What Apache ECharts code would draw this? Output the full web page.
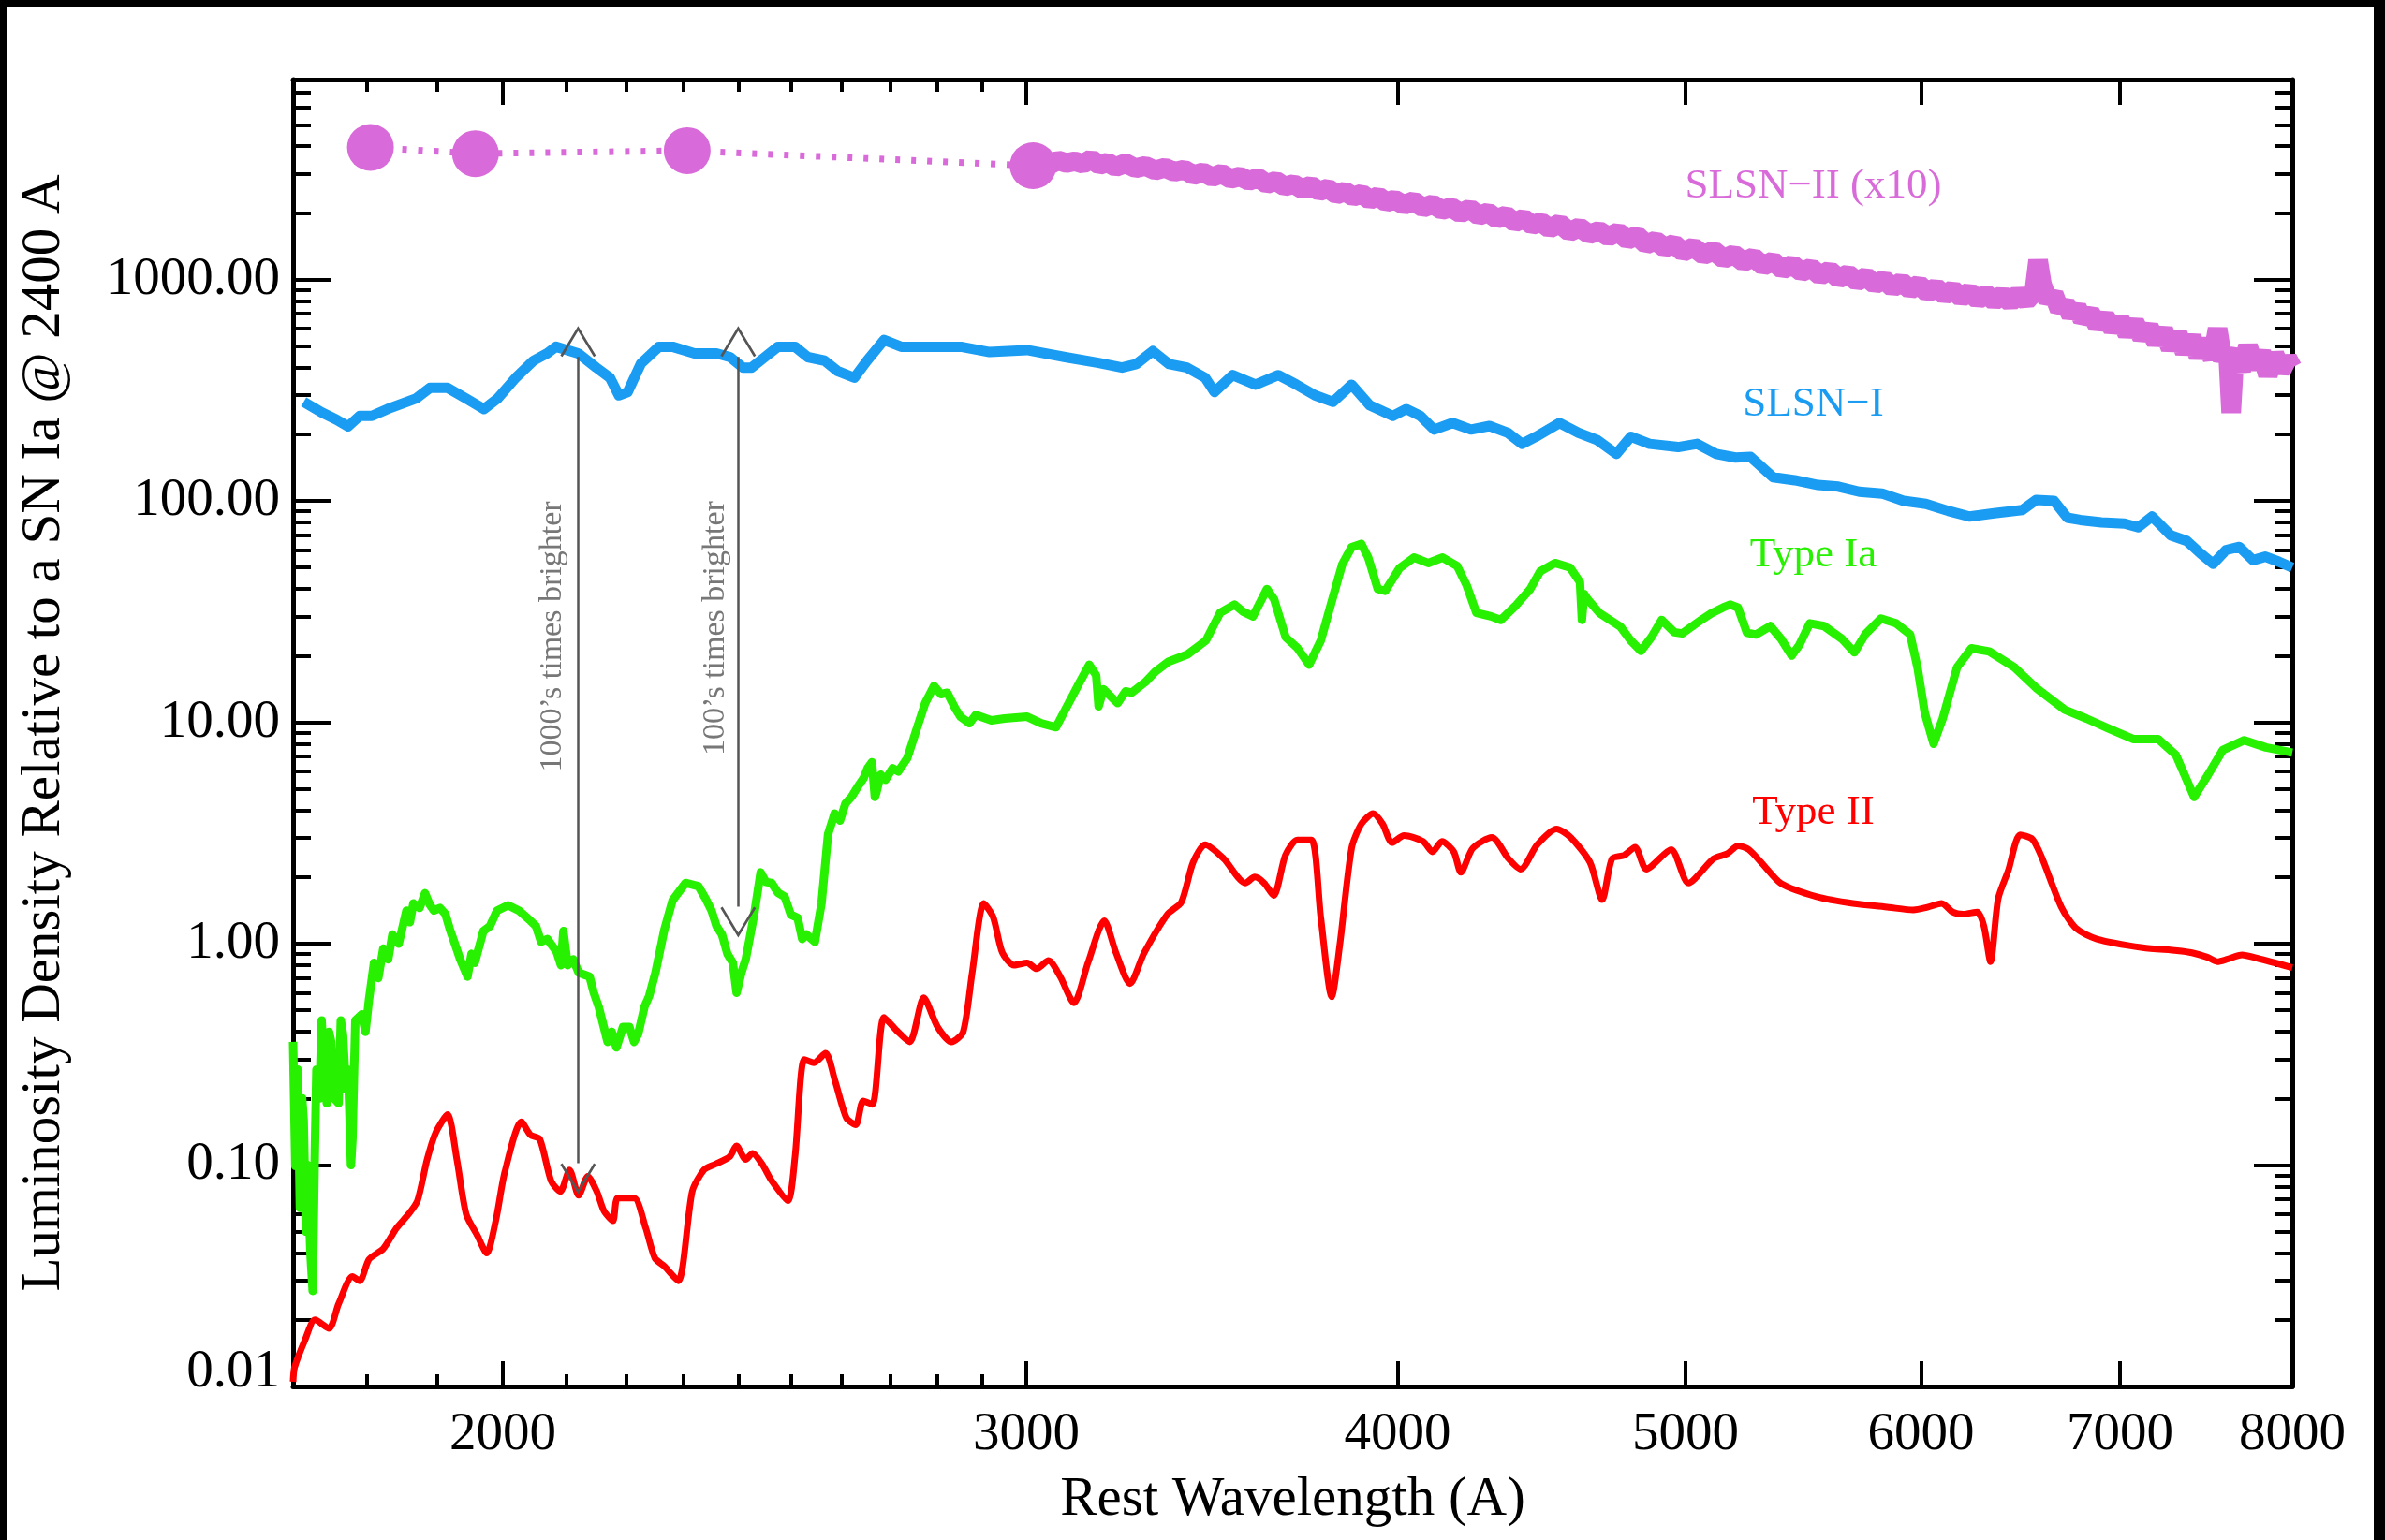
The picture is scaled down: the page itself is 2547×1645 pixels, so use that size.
<!DOCTYPE html>
<html lang="en">
  <head>
    <meta charset="UTF-8" />
    <title>SLSN vs SN spectra</title>
    <style>
      html,
      body {
        margin: 0;
        padding: 0;
        background: #000;
      }
      #main {
        position: absolute;
        left: 8px;
        top: 8px;
        width: 2527px;
        height: 1637px;
        background: #fff;
      }
    </style>
  </head>
  <body>
    <div id="main"></div>
    <script src="https://cdn.jsdelivr.net/npm/echarts@6/dist/echarts.min.js"></script>
    <script>
      // tick positions (wavelength in A, luminosity relative to SN Ia)
      const xMajorTicks = [2000, 3000, 4000, 5000, 6000, 7000, 8000];
      const xMinorTicks = [1800, 1900, 2100, 2200, 2300, 2400, 2500, 2600, 2700, 2800, 2900];
      const yMajorTicks = [0.01, 0.1, 1, 10, 100, 1000];
      const yMinorTicks = [
        0.02, 0.03, 0.04, 0.05, 0.06, 0.07, 0.08, 0.09,
        0.2, 0.3, 0.4, 0.5, 0.6, 0.7, 0.8, 0.9,
        2, 3, 4, 5, 6, 7, 8, 9,
        20, 30, 40, 50, 60, 70, 80, 90,
        200, 300, 400, 500, 600, 700, 800, 900,
        2000, 3000, 4000, 5000, 6000, 7000
      ];

      // SLSN-II (x10): UV photometry points, then the (noisy) optical spectrum
      const slsn2Phot = [[1805, 3950], [1958, 3700], [2307, 3820], [3016, 3266]];
      const slsn2Spec = [
        [3016, 3266], [3035, 3390], [3055, 3300], [3075, 3450], [3095, 3360], [3115, 3420],
        [3135, 3330], [3155, 3500], [3175, 3290], [3195, 3380], [3215, 3220], [3240, 3350],
        [3265, 3180], [3290, 3260], [3315, 3110], [3340, 3200], [3365, 3060], [3390, 3140],
        [3415, 2960], [3440, 3050], [3465, 2900], [3490, 3010], [3515, 2850], [3540, 2920],
        [3565, 2790], [3590, 2880], [3615, 2700], [3640, 2790], [3665, 2630], [3690, 2700],
        [3715, 2560], [3740, 2660], [3765, 2500], [3790, 2580], [3815, 2420], [3840, 2500],
        [3865, 2370], [3890, 2440], [3915, 2290], [3940, 2380], [3965, 2230], [3990, 2300],
        [4020, 2170], [4050, 2260], [4080, 2110], [4110, 2190], [4140, 2060], [4170, 2120],
        [4200, 1990], [4230, 2090], [4260, 1940], [4290, 2010], [4320, 1880], [4350, 1950],
        [4380, 1810], [4410, 1890], [4440, 1760], [4470, 1820], [4500, 1700], [4535, 1790],
        [4570, 1640], [4605, 1720], [4640, 1600], [4675, 1660], [4710, 1560], [4745, 1640],
        [4780, 1510], [4815, 1580], [4850, 1440], [4885, 1500], [4920, 1390], [4955, 1450],
        [4990, 1330], [5030, 1400], [5070, 1290], [5110, 1350], [5150, 1240], [5190, 1300],
        [5230, 1200], [5270, 1260], [5310, 1150], [5350, 1210], [5390, 1110], [5430, 1170],
        [5470, 1080], [5510, 1130], [5550, 1040], [5590, 1100], [5630, 1010], [5670, 1060],
        [5710, 980], [5750, 1030], [5790, 950], [5830, 1000], [5870, 920], [5910, 975],
        [5950, 900], [5990, 950], [6030, 870], [6070, 920], [6110, 850], [6150, 900],
        [6190, 830], [6230, 880], [6270, 810], [6310, 860], [6350, 800], [6390, 850],
        [6430, 790], [6470, 860], [6510, 800], [6550, 880], [6570, 1220], [6590, 950],
        [6620, 800], [6650, 860], [6680, 730], [6710, 780], [6740, 690], [6770, 750],
        [6800, 660], [6840, 710], [6880, 620], [6920, 680], [6960, 600], [7000, 660],
        [7040, 570], [7080, 640], [7120, 550], [7160, 610], [7200, 520], [7240, 590],
        [7280, 490], [7320, 570], [7360, 470], [7400, 550], [7440, 450], [7480, 530],
        [7520, 440], [7550, 600], [7580, 430], [7610, 490], [7630, 250], [7650, 460],
        [7690, 390], [7730, 500], [7770, 400], [7810, 470], [7850, 370], [7890, 460],
        [7930, 385], [7970, 440], [8000, 400]
      ];

      const slsn1 = [
        [1714, 280], [1738, 251], [1758, 233], [1774, 217], [1790, 242], [1807, 242],
        [1829, 260], [1870, 290], [1890, 324], [1916, 324], [1944, 290], [1971, 260],
        [1992, 290], [2020, 360], [2048, 430], [2070, 464], [2084, 497], [2120, 464],
        [2150, 400], [2173, 360], [2188, 300], [2203, 310], [2226, 418], [2257, 497],
        [2281, 497], [2320, 464], [2360, 464], [2385, 446], [2409, 400], [2425, 400],
        [2450, 446], [2475, 497], [2508, 497], [2533, 446], [2566, 430], [2592, 386],
        [2626, 360], [2652, 430], [2687, 533], [2723, 497], [2759, 497], [2805, 497],
        [2852, 497], [2916, 470], [3002, 480], [3092, 446], [3173, 420], [3231, 400],
        [3267, 415], [3309, 475], [3351, 415], [3398, 400], [3446, 360], [3471, 310],
        [3520, 370], [3583, 335], [3647, 370], [3699, 335], [3752, 300], [3805, 280],
        [3860, 335], [3915, 270], [3985, 242], [4027, 260], [4071, 242], [4115, 210],
        [4174, 225], [4234, 210], [4295, 218], [4357, 203], [4405, 181], [4453, 195],
        [4535, 225], [4602, 203], [4670, 188], [4739, 163], [4792, 195], [4862, 181],
        [4971, 175], [5045, 181], [5120, 163], [5197, 157], [5258, 158], [5350, 128],
        [5441, 124], [5540, 118], [5628, 116], [5720, 110], [5822, 108], [5920, 100],
        [6023, 97], [6130, 90], [6230, 85], [6350, 88], [6490, 91], [6560, 101],
        [6652, 100], [6720, 84], [6788, 82], [6900, 80], [7025, 79], [7100, 76],
        [7176, 85], [7280, 70], [7372, 66], [7450, 58], [7524, 52], [7600, 60],
        [7678, 62], [7760, 54], [7835, 56], [7920, 53], [8000, 50]
      ];

      const typeIa = [
        [1700, 0.36], [1703, 0.099], [1706, 0.27], [1709, 0.064], [1712, 0.2], [1714, 0.16],
        [1717, 0.05], [1719, 0.1], [1723, 0.04], [1726, 0.027], [1729, 0.12], [1731, 0.27],
        [1735, 0.2], [1738, 0.45], [1742, 0.25], [1745, 0.19], [1748, 0.4], [1751, 0.36],
        [1755, 0.2], [1761, 0.19], [1764, 0.45], [1767, 0.39], [1771, 0.22], [1774, 0.27],
        [1778, 0.1], [1780, 0.13], [1784, 0.45], [1793, 0.48], [1798, 0.4], [1803, 0.56],
        [1810, 0.82], [1816, 0.7], [1823, 0.95], [1830, 0.85], [1836, 1.1], [1845, 1.0],
        [1856, 1.41], [1861, 1.25], [1866, 1.52], [1875, 1.45], [1883, 1.69], [1890, 1.5],
        [1896, 1.41], [1905, 1.45], [1913, 1.36], [1920, 1.15], [1926, 1.02], [1935, 0.85],
        [1946, 0.71], [1952, 0.9], [1957, 0.82], [1970, 1.14], [1980, 1.2], [1991, 1.41],
        [2008, 1.49], [2025, 1.41], [2043, 1.27], [2052, 1.2], [2060, 1.02], [2070, 1.05],
        [2085, 0.92], [2092, 0.8], [2096, 1.14], [2103, 0.8], [2112, 0.85], [2121, 0.74],
        [2139, 0.71], [2146, 0.6], [2154, 0.52], [2169, 0.36], [2176, 0.4], [2184, 0.34],
        [2195, 0.42], [2206, 0.42], [2214, 0.36], [2221, 0.39], [2232, 0.52], [2240, 0.58],
        [2251, 0.74], [2266, 1.14], [2281, 1.57], [2304, 1.88], [2327, 1.82], [2340, 1.6],
        [2351, 1.41], [2360, 1.2], [2370, 1.1], [2380, 0.9], [2390, 0.82], [2397, 0.6],
        [2406, 0.74], [2414, 0.85], [2430, 1.36], [2442, 2.1], [2452, 1.9], [2463, 1.88],
        [2475, 1.7], [2488, 1.63], [2500, 1.35], [2513, 1.31], [2522, 1.05], [2530, 1.1],
        [2547, 1.02], [2560, 1.52], [2573, 3.12], [2586, 3.87], [2597, 3.6], [2608, 4.3],
        [2620, 4.6], [2635, 5.2], [2645, 5.6], [2653, 6.2], [2662, 6.6], [2668, 4.6],
        [2671, 4.8], [2680, 5.8], [2690, 5.5], [2705, 6.2], [2717, 6.0], [2736, 6.9],
        [2755, 9.2], [2774, 12.2], [2793, 14.6], [2808, 13.4], [2822, 13.6], [2840, 11.5],
        [2851, 10.6], [2871, 9.9], [2885, 10.8], [2896, 10.6], [2920, 10.2], [2950, 10.4],
        [3002, 10.6], [3035, 9.9], [3070, 9.5], [3092, 11.4], [3127, 15.2], [3150, 18.2],
        [3167, 16.3], [3173, 11.8], [3185, 14.1], [3220, 12.2], [3240, 13.8], [3255, 13.6],
        [3290, 15.2], [3315, 16.9], [3350, 18.8], [3398, 20.2], [3448, 23.4], [3486, 31.2],
        [3525, 34.0], [3550, 31.5], [3576, 30.1], [3615, 40.0], [3635, 36.0], [3668, 24.2],
        [3701, 21.7], [3735, 18.2], [3769, 23.4], [3803, 36.0], [3832, 51.6], [3860, 61.8],
        [3889, 64], [3910, 55.5], [3939, 40], [3962, 39.2], [4006, 49.7], [4051, 55.5],
        [4096, 52.4], [4142, 55.5], [4189, 50.8], [4220, 41.5], [4252, 31.2], [4300, 30.1],
        [4333, 29], [4382, 33.5], [4433, 40], [4467, 48], [4519, 52.4], [4572, 50],
        [4607, 43], [4614, 29], [4622, 38], [4634, 36], [4679, 31], [4754, 27],
        [4792, 23.4], [4830, 21], [4869, 24.2], [4908, 29], [4957, 25.5], [4987, 25.2],
        [5061, 29], [5100, 31], [5147, 33], [5175, 34], [5207, 33], [5243, 25.4],
        [5280, 24.9], [5339, 27.2], [5384, 23.8], [5428, 20.0], [5460, 22.3], [5505, 28],
        [5566, 27.2], [5644, 23.8], [5699, 20.7], [5747, 25.0], [5817, 29.4], [5885, 28],
        [5950, 24.9], [5984, 17.7], [6018, 11], [6059, 8.0], [6102, 10.4], [6170, 17.7],
        [6239, 21.6], [6326, 20.9], [6451, 17.7], [6560, 14.3], [6707, 11.4], [6820, 10.4],
        [6935, 9.4], [7072, 8.4], [7210, 8.4], [7311, 7.1], [7414, 4.6], [7495, 5.8],
        [7581, 7.5], [7708, 8.3], [7838, 7.7], [8000, 7.3]
      ];

      const typeII = [
        [1700, 0.0105], [1702, 0.0122], [1716, 0.0163], [1729, 0.02], [1748, 0.0183], [1761, 0.0236],
        [1780, 0.0314], [1790, 0.03], [1803, 0.0375], [1823, 0.0419], [1842, 0.052], [1859, 0.06],
        [1872, 0.069], [1886, 0.106], [1899, 0.141], [1916, 0.169], [1930, 0.106], [1944, 0.06],
        [1961, 0.048], [1975, 0.04], [1989, 0.056], [2003, 0.093], [2029, 0.157], [2043, 0.137],
        [2058, 0.131], [2076, 0.085], [2091, 0.076], [2106, 0.095], [2121, 0.073], [2136, 0.089],
        [2151, 0.076], [2163, 0.062], [2178, 0.056], [2186, 0.071], [2214, 0.071], [2234, 0.052],
        [2250, 0.038], [2266, 0.035], [2291, 0.03], [2316, 0.076], [2337, 0.095], [2358, 0.101],
        [2384, 0.109], [2397, 0.122], [2414, 0.106], [2427, 0.113], [2445, 0.101], [2463, 0.085],
        [2494, 0.069], [2508, 0.109], [2526, 0.3], [2545, 0.29], [2568, 0.32], [2587, 0.24],
        [2610, 0.163], [2629, 0.152], [2644, 0.195], [2663, 0.188], [2687, 0.465], [2716, 0.4],
        [2741, 0.36], [2771, 0.57], [2801, 0.42], [2831, 0.36], [2857, 0.4], [2877, 0.74],
        [2903, 1.52], [2924, 1.32], [2945, 0.91], [2972, 0.8], [3002, 0.82], [3024, 0.77],
        [3052, 0.84], [3080, 0.71], [3113, 0.54], [3147, 0.82], [3187, 1.27], [3216, 0.91],
        [3251, 0.66], [3287, 0.91], [3347, 1.36], [3383, 1.54], [3414, 2.33], [3446, 2.8],
        [3496, 2.42], [3555, 1.88], [3581, 2.0], [3607, 1.88], [3634, 1.65], [3667, 2.51],
        [3701, 2.94], [3742, 2.94], [3769, 1.31], [3801, 0.575], [3825, 0.99], [3860, 2.7],
        [3889, 3.47], [3925, 3.87], [3954, 3.47], [3983, 2.86], [4020, 3.08], [4080, 2.9],
        [4110, 2.6], [4140, 2.9], [4178, 2.6], [4201, 2.1], [4240, 2.7], [4303, 3.02],
        [4359, 2.42], [4400, 2.17], [4457, 2.8], [4524, 3.3], [4574, 3.02], [4643, 2.33],
        [4687, 1.58], [4723, 2.42], [4768, 2.51], [4808, 2.73], [4850, 2.17], [4944, 2.66],
        [5011, 1.88], [5109, 2.42], [5164, 2.55], [5207, 2.77], [5251, 2.66], [5309, 2.28],
        [5384, 1.87], [5535, 1.63], [5692, 1.52], [5852, 1.46], [5965, 1.42], [6030, 1.46],
        [6097, 1.52], [6149, 1.39], [6200, 1.36], [6268, 1.39], [6300, 1.2], [6332, 0.83],
        [6370, 1.6], [6420, 2.14], [6479, 3.1], [6540, 2.97], [6585, 2.5], [6690, 1.46],
        [6768, 1.17], [6876, 1.05], [7124, 0.96], [7316, 0.93], [7402, 0.91], [7489, 0.87],
        [7548, 0.83], [7605, 0.85], [7694, 0.89], [7784, 0.86], [8000, 0.78]
      ];

      // curve labels and "times brighter" annotations, in data coordinates
      const curveLabels = [
        { name: 'SLSN−II (x10)', coord: [5520, 2632], color: '#d96ad9' },
        { name: 'SLSN−I', coord: [5520, 271], color: '#1a9cf2' },
        { name: 'Type Ia', coord: [5520, 57], color: '#27f000' },
        { name: 'Type II', coord: [5520, 3.9], color: '#ff0000' }
      ];
      const arrows = [
        { wave: 2120, from: 447, to: 0.102, text: '1000’s times brighter', textAt: [2079, 24.4] },
        { wave: 2400, from: 447, to: 1.47, text: '100’s times brighter', textAt: [2358, 26.6] }
      ];

      const FONT = 'Liberation Serif';
      const myChart = echarts.init(document.getElementById('main'));

      // open "V" head, tip in the middle of the box so it sits on the line end
      const vHead = 'path://M50,0 L0,86 L6,90 L50,14 L94,90 L100,86 Z M50,180 L50,180 Z';

      function xAxisDef(position, ticks, len, main) {
        return {
          type: 'log',
          logBase: 10,
          min: 1700,
          max: 8000,
          position: position,
          axisLine: { show: main, onZero: false, lineStyle: { color: '#000', width: 5 } },
          axisTick: { show: true, inside: true, length: len, customValues: ticks, lineStyle: { color: '#000', width: 4 } },
          axisLabel: {
            show: main && position === 'bottom',
            customValues: ticks,
            formatter: (v) => Math.round(v).toString(),
            fontFamily: FONT,
            fontSize: 57,
            color: '#000',
            margin: 24
          },
          splitLine: { show: false },
          minorTick: { show: false },
          name: main && position === 'bottom' ? 'Rest Wavelength (A)' : '',
          nameLocation: 'middle',
          nameGap: 92,
          nameTextStyle: { fontFamily: FONT, fontSize: 59, color: '#000' }
        };
      }

      function yAxisDef(position, ticks, len, main) {
        return {
          type: 'log',
          logBase: 10,
          min: 0.01,
          max: 8000,
          position: position,
          axisLine: { show: main, onZero: false, lineStyle: { color: '#000', width: 5 } },
          axisTick: { show: true, inside: true, length: len, customValues: ticks, lineStyle: { color: '#000', width: 4 } },
          axisLabel: {
            show: main && position === 'left',
            customValues: ticks,
            formatter: (v) => (v < 0.015 ? '{lo|0.01}' : v.toFixed(2)),
            fontFamily: FONT,
            fontSize: 57,
            color: '#000',
            margin: 14,
            rich: { lo: { fontFamily: FONT, fontSize: 57, color: '#000', padding: [0, 0, 30, 0] } }
          },
          splitLine: { show: false },
          minorTick: { show: false },
          name: main && position === 'left' ? 'Luminosity Density Relative to a SN Ia @ 2400 A' : '',
          nameLocation: 'middle',
          nameGap: 236,
          nameTextStyle: { fontFamily: FONT, fontSize: 59, color: '#000' }
        };
      }

      function spectrum(name, data, color, width, join, extra) {
        return Object.assign(
          {
            name: name,
            type: 'line',
            data: data,
            showSymbol: false,
            clip: false,
            silent: true,
            lineStyle: { color: color, width: width, join: join },
            itemStyle: { color: color }
          },
          extra || {}
        );
      }

      function labelMark(item) {
        return {
          symbol: 'circle',
          symbolSize: 0,
          silent: true,
          data: [
            {
              name: item.name,
              coord: item.coord,
              label: { show: true, position: 'inside', formatter: '{b}', fontFamily: FONT, fontSize: 45, color: item.color }
            }
          ]
        };
      }

      const option = {
        animation: false,
        grid: { left: 305, right: 87, top: 77, bottom: 164 },
        xAxis: [
          xAxisDef('bottom', xMajorTicks, 27, true),
          xAxisDef('bottom', xMinorTicks, 13, false),
          xAxisDef('top', xMajorTicks, 27, true),
          xAxisDef('top', xMinorTicks, 13, false)
        ],
        yAxis: [
          yAxisDef('left', yMajorTicks, 41, true),
          yAxisDef('left', yMinorTicks, 19, false),
          yAxisDef('right', yMajorTicks, 41, true),
          yAxisDef('right', yMinorTicks, 19, false)
        ],
        series: [
          {
            name: 'SLSN-II phot',
            type: 'line',
            data: slsn2Phot,
            symbol: 'circle',
            symbolSize: 50,
            showSymbol: true,
            silent: true,
            lineStyle: { color: '#d96ad9', width: 7, type: [5, 12] },
            itemStyle: { color: '#d96ad9' }
          },
          spectrum('SLSN-II', slsn2Spec, '#d96ad9', 21, 'bevel', { markPoint: labelMark(curveLabels[0]) }),
          spectrum('SLSN-I', slsn1, '#1a9cf2', 11, 'round', { markPoint: labelMark(curveLabels[1]) }),
          spectrum('Type Ia', typeIa, '#27f000', 9, 'round', { markPoint: labelMark(curveLabels[2]) }),
          spectrum('Type II', typeII, '#ff0000', 7, 'round', {
            smooth: 0.25,
            markPoint: {
              symbol: 'circle',
              symbolSize: 0,
              silent: true,
              data: [labelMark(curveLabels[3]).data[0]].concat(
                arrows.map((a) => ({
                  name: a.text,
                  coord: a.textAt,
                  label: { show: true, position: 'inside', formatter: '{b}', rotate: 90, fontFamily: FONT, fontSize: 34, color: '#777' }
                }))
              )
            },
            markLine: {
              silent: true,
              symbol: [vHead, vHead],
              symbolSize: [38, 66],
              label: { show: false },
              lineStyle: { color: '#555', width: 2.5, type: 'solid' },
              data: arrows.map((a) => [{ coord: [a.wave, a.from] }, { coord: [a.wave, a.to] }])
            }
          })
        ]
      };

      myChart.setOption(option);
    </script>
  </body>
</html>
